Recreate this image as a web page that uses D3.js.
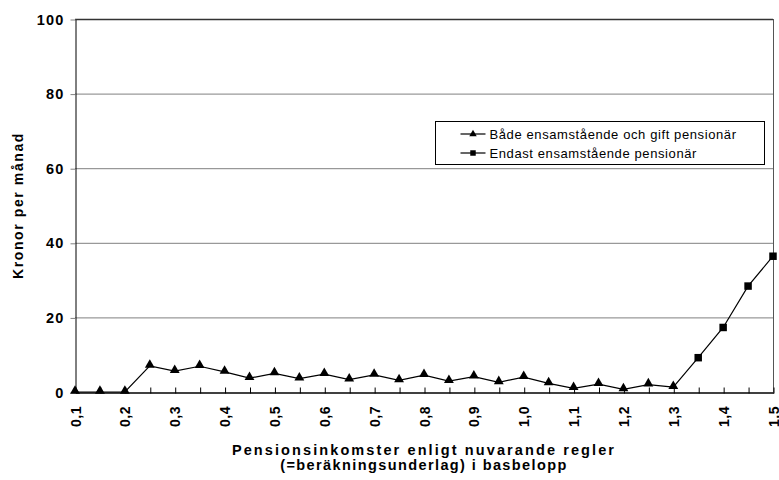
<!DOCTYPE html>
<html>
<head>
<meta charset="utf-8">
<script src="https://cdn.jsdelivr.net/npm/d3@7"></script>
<style>
  body { margin: 0; background: #fff; }
  svg text { font-family: Arial, "Liberation Sans", sans-serif; }
</style>
</head>
<body>
<svg id="chart" width="779" height="480"></svg>
<script>
// Income levels (basbelopp) on the category axis
const incomeLevels = [0.1, 0.15, 0.2, 0.25, 0.3, 0.35, 0.4, 0.45, 0.5, 0.55, 0.6, 0.65, 0.7,
  0.75, 0.8, 0.85, 0.9, 0.95, 1.0, 1.05, 1.1, 1.15, 1.2, 1.25, 1.3, 1.35, 1.4, 1.45, 1.5];

// Kronor per månad, both single and married pensioners
const bothValues = [0, 0, 0, 7.0, 5.6, 6.9, 5.4, 3.7, 5.0, 3.6, 4.8, 3.3, 4.6,
  3.1, 4.5, 2.9, 4.1, 2.6, 4.0, 2.3, 1.0, 2.1, 0.7, 2.0, 1.3, null, null, null, null];

// Kronor per månad, single pensioners only
const singleValues = [null, null, null, null, null, null, null, null, null, null, null, null, null,
  null, null, null, null, null, null, null, null, null, null, null, 1.3, 9.2, 17.3, 28.4, 36.4];

const yTicks = [0, 20, 40, 60, 80, 100];
const labelledLevels = [0.1, 0.2, 0.3, 0.4, 0.5, 0.6, 0.7, 0.8, 0.9, 1.0, 1.1, 1.2, 1.3, 1.4, 1.5];

const seriesNames = ["Både ensamstående och gift pensionär", "Endast ensamstående pensionär"];

const svg = d3.select("#chart");
const plot = { left: 75, right: 773, top: 19, bottom: 392 };

const x = d3.scalePoint().domain(incomeLevels).range([plot.left, plot.right]);
const y = d3.scaleLinear().domain([0, 100]).range([plot.bottom, plot.top]);

const fmt = v => d3.format(".1f")(v).replace(".", ",");

// Horizontal gridlines
svg.append("g").selectAll("line").data(yTicks.filter(t => t > 0)).join("line")
  .attr("x1", plot.left).attr("x2", plot.right)
  .attr("y1", d => y(d) + 0.5).attr("y2", d => y(d) + 0.5)
  .attr("stroke", d => d === 100 ? "#333" : "#808080")
  .attr("stroke-width", d => d === 100 ? 1.5 : 1);

// Right frame edge
svg.append("line")
  .attr("x1", plot.right + 0.5).attr("x2", plot.right + 0.5)
  .attr("y1", plot.top).attr("y2", plot.bottom)
  .attr("stroke", "#555").attr("stroke-width", 1);

// Y axis
const yAxis = svg.append("g")
  .attr("transform", `translate(${plot.left + 0.5},0.5)`)
  .call(d3.axisLeft(y).tickValues(yTicks).tickSize(5).tickPadding(6).tickSizeOuter(0));
yAxis.select(".domain").attr("stroke", "#000");
yAxis.selectAll(".tick line").attr("stroke", "#808080");
yAxis.selectAll("text").attr("font-size", 14.5).attr("font-weight", "bold")
  .attr("letter-spacing", 1.2).attr("fill", "#000");

// X axis: tick on every category, labels on every other
const xAxis = svg.append("g")
  .attr("transform", `translate(0.5,${plot.bottom + 0.5})`)
  .call(d3.axisBottom(x).tickSize(0).tickFormat(""));
xAxis.select(".domain").attr("stroke", "#000").attr("stroke-width", 1.3);
xAxis.selectAll(".tick line").attr("y1", -5).attr("y2", 1).attr("stroke", "#000");

svg.append("g").selectAll("text").data(labelledLevels).join("text")
  .attr("transform", d => `translate(${x(d) + 5.5},${plot.bottom + 14}) rotate(-90)`)
  .attr("text-anchor", "end")
  .attr("font-size", 14).attr("font-weight", "bold").attr("letter-spacing", 0.5)
  .text(d => fmt(d));

// Axis titles
svg.append("text")
  .attr("transform", `translate(23,${(plot.top + plot.bottom) / 2}) rotate(-90)`)
  .attr("text-anchor", "middle").attr("font-size", 14).attr("font-weight", "bold")
  .attr("letter-spacing", 1.6)
  .text("Kronor per månad");

const xTitle = svg.append("text")
  .attr("text-anchor", "middle").attr("font-size", 14.5).attr("font-weight", "bold");
xTitle.append("tspan").attr("x", (plot.left + plot.right) / 2).attr("y", 455)
  .attr("letter-spacing", 2.1)
  .text("Pensionsinkomster enligt nuvarande regler");
xTitle.append("tspan").attr("x", (plot.left + plot.right) / 2).attr("y", 470)
  .attr("letter-spacing", 1.4)
  .text("(=beräkningsunderlag) i basbelopp");

// Lines
const line = d3.line().defined(d => d.v != null).x(d => x(d.k)).y(d => y(d.v));
const bothData = incomeLevels.map((k, i) => ({ k, v: bothValues[i] }));
const singleData = incomeLevels.map((k, i) => ({ k, v: singleValues[i] }));

svg.append("path").datum(singleData).attr("d", line)
  .attr("fill", "none").attr("stroke", "#000").attr("stroke-width", 1.2);
svg.append("path").datum(bothData).attr("d", line)
  .attr("fill", "none").attr("stroke", "#000").attr("stroke-width", 1.2);

// Markers
const tri = d3.symbol().type(d3.symbolTriangle).size(42);
const sq = d3.symbol().type(d3.symbolSquare).size(56);

svg.append("g").selectAll("path")
  .data(singleData.filter((d, i) => d.v != null && bothValues[i] == null)).join("path")
  .attr("transform", d => `translate(${x(d.k)},${y(d.v)})`)
  .attr("d", sq).attr("fill", "#000");

svg.append("g").selectAll("path")
  .data(bothData.filter(d => d.v != null)).join("path")
  .attr("transform", d => `translate(${x(d.k)},${y(d.v) - 1})`)
  .attr("d", tri).attr("fill", "#000");

// Legend
const legend = svg.append("g").attr("transform", "translate(435.5,121.5)");
legend.append("rect").attr("width", 329).attr("height", 43)
  .attr("fill", "#fff").attr("stroke", "#000").attr("stroke-width", 1);
const rows = legend.selectAll("g.row").data(seriesNames).join("g")
  .attr("class", "row")
  .attr("transform", (d, i) => `translate(0,${12.5 + i * 19})`);
rows.append("line").attr("x1", 25).attr("x2", 50).attr("stroke", "#000").attr("stroke-width", 1.2);
rows.append("path").attr("transform", "translate(37.5,0)")
  .attr("d", (d, i) => i === 0 ? d3.symbol().type(d3.symbolTriangle).size(24)() : d3.symbol().type(d3.symbolSquare).size(30)())
  .attr("fill", "#000");
rows.append("text").attr("x", 54).attr("dy", "0.36em").attr("font-size", 13)
  .attr("letter-spacing", 0.6).text(d => d);
</script>
</body>
</html>
